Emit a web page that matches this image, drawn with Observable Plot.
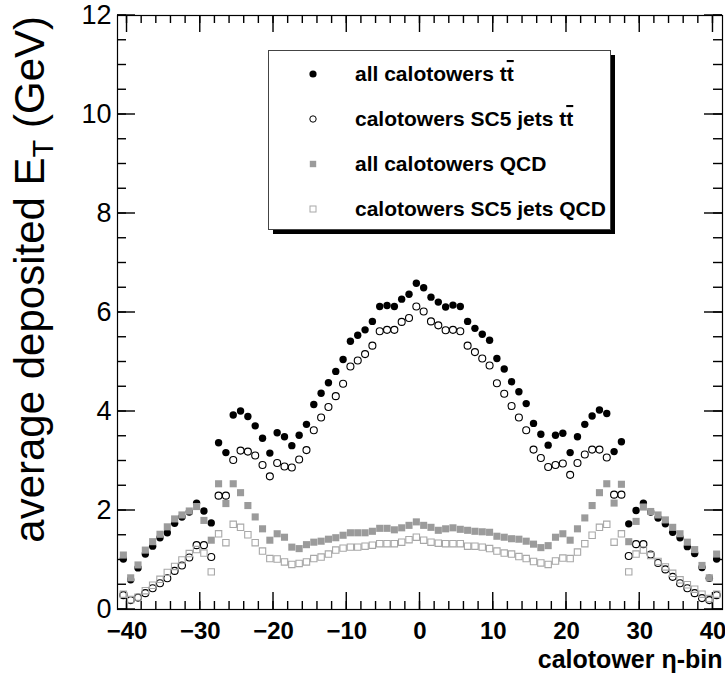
<!DOCTYPE html>
<html><head><meta charset="utf-8">
<script src="https://cdn.jsdelivr.net/npm/d3@7"></script>
<script src="https://cdn.jsdelivr.net/npm/@observablehq/plot@0.6"></script>
<style>
body{margin:0;background:#fff;}
#chart{position:relative;width:725px;height:679px;}
svg{font-family:"Liberation Sans",Arial,sans-serif;}
</style>
</head><body><div id="chart"></div>
<script>
// calotower eta-bin centres
const etaBins = [-40.5,-39.5,-38.5,-37.5,-36.5,-35.5,-34.5,-33.5,-32.5,-31.5,-30.5,-29.5,-28.5,-27.5,-26.5,-25.5,-24.5,-23.5,-22.5,-21.5,-20.5,-19.5,-18.5,-17.5,-16.5,-15.5,-14.5,-13.5,-12.5,-11.5,-10.5,-9.5,-8.5,-7.5,-6.5,-5.5,-4.5,-3.5,-2.5,-1.5,-0.5,
0.5,1.5,2.5,3.5,4.5,5.5,6.5,7.5,8.5,9.5,10.5,11.5,12.5,13.5,14.5,15.5,16.5,17.5,18.5,19.5,20.5,21.5,22.5,23.5,24.5,25.5,26.5,27.5,28.5,29.5,30.5,31.5,32.5,33.5,34.5,35.5,36.5,37.5,38.5,39.5,40.5];
// all calotowers ttbar
const allTT = [1.02,0.60,0.84,1.12,1.28,1.45,1.55,1.74,1.87,1.97,2.15,1.99,1.75,3.37,3.17,3.93,4.01,3.90,3.71,3.46,3.16,3.57,3.49,3.31,3.52,3.74,4.14,4.37,4.58,4.81,5.05,5.42,5.54,5.65,5.82,6.12,6.14,6.12,6.27,6.37,6.59,
6.50,6.31,6.21,6.11,6.15,6.12,5.82,5.68,5.56,5.44,5.07,4.86,4.60,4.40,4.16,3.76,3.54,3.32,3.52,3.56,3.17,3.49,3.74,3.91,4.03,3.96,3.19,3.39,1.73,2.00,2.15,1.97,1.85,1.73,1.56,1.45,1.27,1.13,0.85,0.63,1.02];
// calotowers in SC5 jets ttbar
const jetTT = [0.29,0.19,0.24,0.33,0.43,0.53,0.63,0.78,0.89,1.05,1.30,1.30,1.06,2.30,2.30,3.02,3.21,3.19,3.11,2.92,2.69,2.96,2.89,2.87,3.03,3.22,3.62,3.88,4.09,4.31,4.56,4.91,5.03,5.16,5.33,5.62,5.65,5.65,5.81,5.89,6.12,
6.02,5.82,5.74,5.64,5.65,5.62,5.33,5.20,5.07,4.93,4.57,4.36,4.11,3.88,3.62,3.23,3.06,2.88,2.92,2.95,2.72,2.96,3.13,3.23,3.23,3.07,2.32,2.32,1.08,1.32,1.32,1.11,0.94,0.81,0.66,0.53,0.43,0.33,0.23,0.19,0.29];
// all calotowers QCD
const allQCD = [1.10,0.64,0.90,1.20,1.37,1.52,1.67,1.83,1.91,1.99,2.08,1.80,1.40,2.54,2.14,2.54,2.36,2.10,1.87,1.63,1.40,1.53,1.46,1.26,1.23,1.31,1.36,1.38,1.42,1.45,1.50,1.55,1.55,1.55,1.58,1.64,1.64,1.61,1.65,1.70,1.77,
1.70,1.66,1.60,1.63,1.65,1.62,1.60,1.58,1.57,1.56,1.48,1.46,1.43,1.42,1.38,1.32,1.25,1.29,1.46,1.53,1.40,1.63,1.85,2.10,2.36,2.54,2.15,2.53,1.37,1.78,2.07,1.98,1.91,1.81,1.66,1.53,1.36,1.21,0.89,0.64,1.12];
// calotowers in SC5 jets QCD
const jetQCD = [0.31,0.20,0.25,0.38,0.49,0.61,0.75,0.87,1.00,1.13,1.21,1.14,0.76,1.53,1.35,1.72,1.66,1.51,1.35,1.18,1.03,1.02,0.96,0.91,0.93,0.96,1.03,1.06,1.12,1.20,1.24,1.26,1.26,1.28,1.30,1.33,1.33,1.33,1.36,1.41,1.46,
1.40,1.36,1.34,1.33,1.33,1.33,1.28,1.28,1.26,1.23,1.18,1.14,1.12,1.07,1.03,0.97,0.94,0.91,0.98,1.04,1.03,1.16,1.33,1.50,1.66,1.72,1.36,1.53,0.76,1.12,1.20,1.09,0.97,0.86,0.73,0.60,0.50,0.41,0.31,0.22,0.31];

const xTicks = [-40,-30,-20,-10,0,10,20,30,40];
const yTicks = [0,2,4,6,8,10,12];
const legendLabels = ["all calotowers t", "calotowers SC5 jets t", "all calotowers QCD", "calotowers SC5 jets QCD"];
const xTitle = "calotower η-bin";

const xMinor = d3.range(-40, 41, 2);
const yMinor = d3.range(0, 12.01, 0.5);

const table = (vals) => etaBins.map((e, i) => ({eta: e, v: vals[i]}));

const W = 725, H = 679, ML = 117, MR = 3, MT = 15, MB = 70;
const PW = W - ML - MR, PH = H - MT - MB;
const X0 = -41.3, X1 = 41.3, Y0 = 0, Y1 = 12;
// pixel lengths converted to data units
const ux = (X1 - X0) / PW, uy = (Y1 - Y0) / PH;
const hx = 0.7 * ux, hy = 0.7 * uy;
const FONT = "Liberation Sans, Arial, sans-serif";
const tickFill = {fill: "black"};
const xTickRects = (vals, len, atTop) => Plot.rect(vals, {
  x1: v => v - hx, x2: v => v + hx,
  y1: atTop ? Y1 : Y0, y2: atTop ? Y1 - len * uy : Y0 + len * uy, ...tickFill});
const yTickRects = (vals, len, atRight) => Plot.rect(vals, {
  y1: v => v - hy, y2: v => v + hy,
  x1: atRight ? X1 : X0, x2: atRight ? X1 - len * ux : X0 + len * ux, ...tickFill});
const chart = Plot.plot({
  width: W, height: H,
  marginLeft: ML, marginRight: MR, marginTop: MT, marginBottom: MB,
  style: {fontFamily: FONT, background: "white"},
  x: {domain: [X0, X1]},
  y: {domain: [Y0, Y1]},
  marks: [
    Plot.frame({stroke: "black", strokeWidth: 1.2}),
    // inward tick marks on all four sides
    xTickRects(xMinor, 8, false), xTickRects(xTicks, 17, false),
    xTickRects(xMinor, 8, true), xTickRects(xTicks, 17, true),
    yTickRects(yMinor, 9, false), yTickRects(yTicks, 18, false),
    yTickRects(yMinor, 9, true), yTickRects(yTicks, 18, true),
    Plot.axisX({ticks: xTicks, anchor: "bottom", tickSize: 0, tickPadding: 12, fontSize: 24, fontWeight: "bold", label: null, fill: "black"}),
    Plot.axisY({ticks: yTicks, anchor: "left", tickSize: 0, tickPadding: 6, fontSize: 27, label: null, fill: "black"}),
    Plot.dot(table(allTT), {x: "eta", y: "v", r: 3.7, fill: "black"}),
    Plot.dot(table(jetTT), {x: "eta", y: "v", r: 3.5, stroke: "black", strokeWidth: 1.1, fill: "none"}),
    Plot.dot(table(allQCD), {x: "eta", y: "v", r: 4.0, symbol: "square", fill: "#9b9b9b"}),
    Plot.dot(table(jetQCD), {x: "eta", y: "v", r: 3.6, symbol: "square", stroke: "#a8a8a8", strokeWidth: 1.1, fill: "none"}),
    Plot.text([xTitle], {frameAnchor: "bottom-right", dy: 58, textAnchor: "end", fontSize: 25, fontWeight: "bold", fill: "black"})
  ]
});
document.getElementById("chart").appendChild(chart);

const svg = d3.select(chart);

// y axis title with subscript
const yt = svg.append("text")
  .attr("transform", "translate(44,16) rotate(-90)")
  .attr("text-anchor", "end")
  .attr("font-size", 42)
  .attr("font-family", FONT)
  .attr("fill", "black");
yt.append("tspan").text("average deposited E");
yt.append("tspan").attr("baseline-shift", "-30%").attr("font-size", 29).text("T");
yt.append("tspan").text(" (GeV)");

// legend box with shadow
const lg = svg.append("g").attr("text-anchor", "start");
lg.append("rect").attr("x", 273).attr("y", 55).attr("width", 342).attr("height", 179).attr("fill", "black");
lg.append("rect").attr("x", 268.5).attr("y", 50.5).attr("width", 342).attr("height", 179).attr("fill", "white").attr("stroke", "#444").attr("stroke-width", 1);
const rowsY = [74, 119, 164, 209];
const mx = 313;
lg.append("circle").attr("cx", mx).attr("cy", rowsY[0]).attr("r", 3.6).attr("fill", "black");
lg.append("circle").attr("cx", mx).attr("cy", rowsY[1]).attr("r", 3.2).attr("fill", "none").attr("stroke", "black");
lg.append("rect").attr("x", mx - 3.2).attr("y", rowsY[2] - 3.2).attr("width", 6.4).attr("height", 6.4).attr("fill", "#9b9b9b");
lg.append("rect").attr("x", mx - 3).attr("y", rowsY[3] - 3).attr("width", 6).attr("height", 6).attr("fill", "none").attr("stroke", "#a8a8a8");
legendLabels.forEach((lab, i) => {
  const t = lg.append("text").attr("x", 355).attr("y", rowsY[i] + 7).attr("text-anchor", "start")
    .attr("font-size", 21).attr("font-weight", "bold").attr("font-family", FONT).attr("fill", "black");
  t.append("tspan").text(lab);
  if (i < 2) t.append("tspan").style("text-decoration", "overline").text("t");
});
</script>
</body></html>
